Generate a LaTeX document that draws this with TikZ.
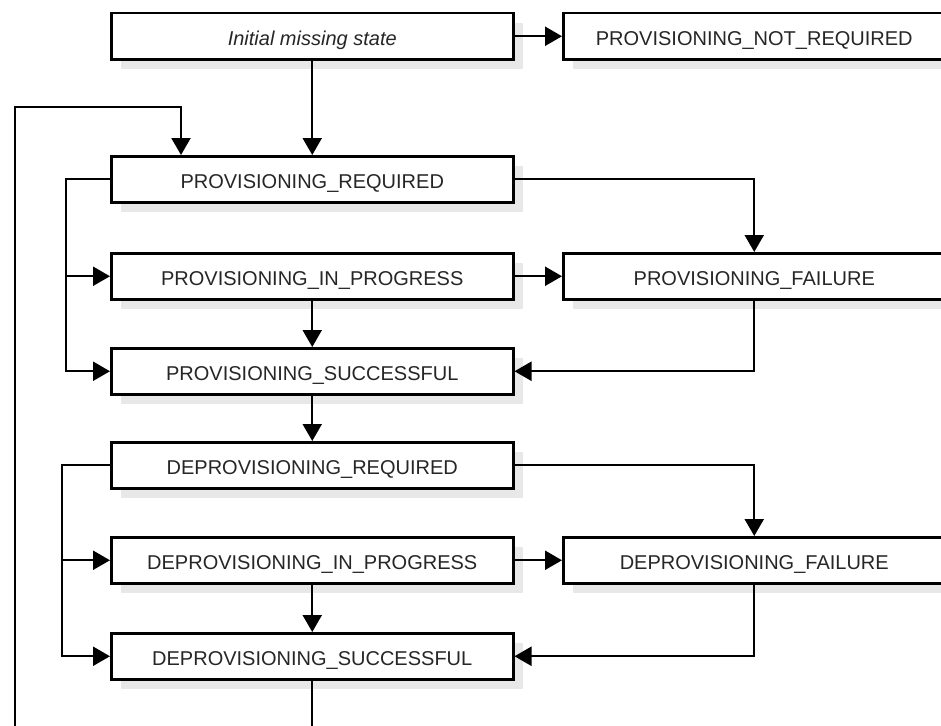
\documentclass[tikz,border=0pt]{standalone}
\usepackage{fontspec}
\setmainfont{Liberation Sans}
\usetikzlibrary{arrows.meta,shadows}
\begin{document}
\begin{tikzpicture}[x=1pt,y=-1pt,
  state/.style={draw, line width=2.5pt, fill=white, minimum width=402pt, minimum height=46pt,
    inner sep=0pt, anchor=north west, text height=18pt, text depth=0pt,
    font=\fontsize{20}{24}\selectfont, text=black!85,
    drop shadow={shadow xshift=10pt, shadow yshift=-10pt, fill=black!9, opacity=1}},
  rstate/.style={state, minimum width=382pt},
  conn/.style={line width=2.2pt},
  arr/.style={conn, -{Triangle[length=17pt,width=19pt]}}]
\useasboundingbox (0,0) rectangle (941,725);
\node[state] (init) at (110,12) {\itshape Initial missing state};
\node[rstate] (pnr) at (562,12) {PROVISIONING\_NOT\_REQUIRED};
\node[state] (pr) at (110,155) {PROVISIONING\_REQUIRED};
\node[rstate] (pf) at (562,252) {PROVISIONING\_FAILURE};
\node[state] (pip) at (110,252) {PROVISIONING\_IN\_PROGRESS};
\node[state] (ps) at (110,347) {PROVISIONING\_SUCCESSFUL};
\node[state] (dr) at (110,441) {DEPROVISIONING\_REQUIRED};
\node[state] (dip) at (110,536) {DEPROVISIONING\_IN\_PROGRESS};
\node[rstate] (df) at (562,536) {DEPROVISIONING\_FAILURE};
\node[state] (ds) at (110,632) {DEPROVISIONING\_SUCCESSFUL};
\coordinate (lx1) at (66,0);
\coordinate (lx2) at (62,0);
\coordinate (loopx) at (15,0);
\coordinate (loopy) at (0,107);
\coordinate (prin) at (181,0);
\coordinate (bot) at (0,740);
\draw[arr] (init.east) -- (pnr.west);
\draw[arr] (init.south) -- (pr.north);
\draw[arr] (loopx |- bot) |- (prin |- loopy) -- (prin |- pr.north);
\draw[arr] (pr.west) -| (lx1 |- ps.west) -- (ps.west);
\draw[arr] (lx1 |- pip.west) -- (pip.west);
\draw[arr] (pr.east) -| (pf.north);
\draw[arr] (pip.east) -- (pf.west);
\draw[arr] (pip.south) -- (ps.north);
\draw[arr] (pf.south) |- (ps.east);
\draw[arr] (ps.south) -- (dr.north);
\draw[arr] (dr.west) -| (lx2 |- ds.west) -- (ds.west);
\draw[arr] (lx2 |- dip.west) -- (dip.west);
\draw[arr] (dr.east) -| (df.north);
\draw[arr] (dip.east) -- (df.west);
\draw[arr] (dip.south) -- (ds.north);
\draw[arr] (df.south) |- (ds.east);
\draw[conn] (ds.south) -- (ds.south |- bot);
\end{tikzpicture}
\end{document}
